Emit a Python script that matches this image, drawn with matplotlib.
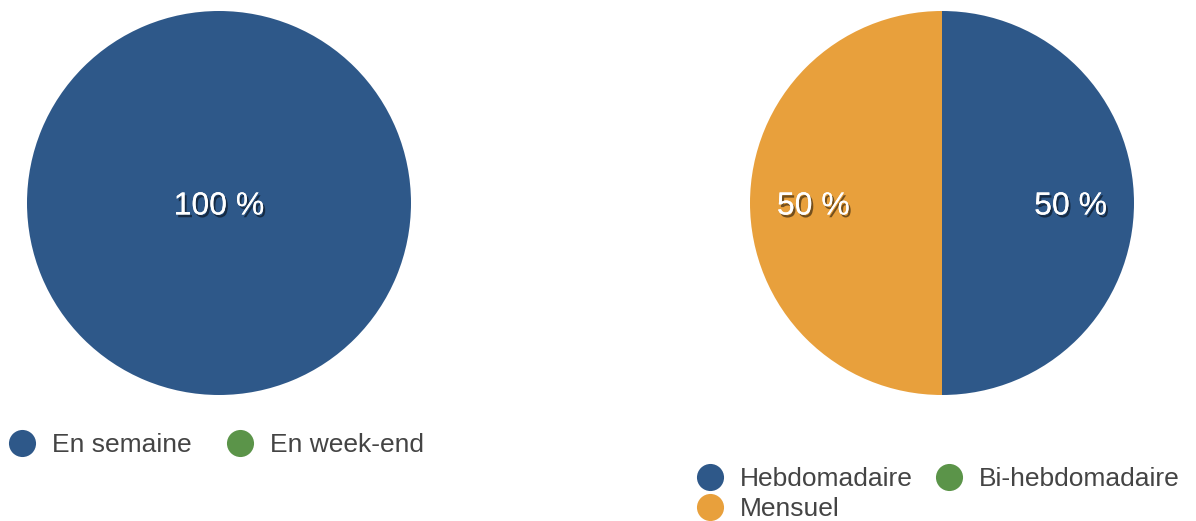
import numpy as np
import matplotlib
matplotlib.use("Agg")
import matplotlib.pyplot as plt
import matplotlib.patheffects as pe
from matplotlib.lines import Line2D

plt.rcParams['font.family'] = ['Liberation Sans', 'DejaVu Sans']

# jours de pratique
jours_labels = ["En semaine", "En week-end"]
jours_vals = [100, 0]

# fréquence
freq_labels = ["Hebdomadaire", "Bi-hebdomadaire", "Mensuel"]
freq_vals = [50, 0, 50]

couleurs = ["#2e5889", "#5b9449", "#e8a03c"]

W, H = 1196, 521
fig = plt.figure(figsize=(W / 100, H / 100), dpi=100)


def par_lignes(items, ncol):
    # matplotlib remplit la légende colonne par colonne
    nrow = int(np.ceil(len(items) / ncol))
    out = []
    for c in range(ncol):
        for r in range(nrow):
            i = r * ncol + c
            if i < len(items):
                out.append(items[i])
    return out


def camembert(cx, cy, r, valeurs, labels, legend_xy, ncol, colspace):
    ax = fig.add_axes([(cx - r) / W, (H - cy - r) / H, 2 * r / W, 2 * r / H])
    ax.pie(valeurs, colors=couleurs[:len(valeurs)], startangle=90,
           counterclock=False, radius=1, frame=False,
           wedgeprops=dict(linewidth=0))
    ax.set_xlim(-1, 1)
    ax.set_ylim(-1, 1)
    ax.set_aspect("equal")
    ax.axis("off")

    total = float(sum(valeurs))
    debut = 90.0
    for v in valeurs:
        if v <= 0:
            continue
        part = v / total
        if part >= 0.999:
            x, y = 0.0, 0.0
        else:
            milieu = np.deg2rad(debut - part * 180)
            x, y = 0.67 * np.cos(milieu), 0.67 * np.sin(milieu)
        ax.annotate(f"{v / total * 100:.0f} %", (x, y), xytext=(0, -2.5),
                    textcoords="offset points", ha="center", va="center",
                    color="white", fontsize=23, fontweight="medium",
                    path_effects=[pe.withSimplePatchShadow(offset=(1.5, -2),
                                                           shadow_rgbFace="black",
                                                           alpha=0.5),
                                  pe.Normal()])
        debut -= part * 360

    handles = [Line2D([], [], marker="o", linestyle="none", markersize=19.5,
                      markerfacecolor=couleurs[i], markeredgewidth=0)
               for i in range(len(labels))]
    fig.legend(par_lignes(handles, ncol), par_lignes(labels, ncol),
               loc="upper left",
               bbox_to_anchor=(legend_xy[0] / W, 1 - legend_xy[1] / H),
               ncol=ncol, frameon=False, fontsize=19, labelcolor="#444444",
               handlelength=1.02, handletextpad=0.62, columnspacing=colspace,
               borderpad=0, borderaxespad=0, labelspacing=0.22)
    return ax


camembert(219, 203, 192, jours_vals, jours_labels, (8.5, 433), 2, 1.35)
camembert(942, 203, 192, freq_vals, freq_labels, (696.5, 467), 2, 0.88)

fig.savefig("out.png", dpi=100, facecolor="white")
